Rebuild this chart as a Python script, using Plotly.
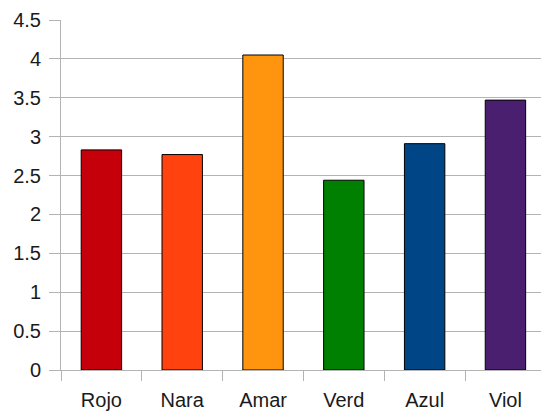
import plotly.graph_objects as go

categories = ["Rojo", "Nara", "Amar", "Verd", "Azul", "Viol"]
values = [2.83, 2.77, 4.05, 2.44, 2.91, 3.47]
colors = ["#C5000B", "#FF420E", "#FF950E", "#008000", "#004586", "#4B1F6F"]
ytickvals = [0, 0.5, 1, 1.5, 2, 2.5, 3, 3.5, 4, 4.5]
yticktext = ["0", "0.5", "1", "1.5", "2", "2.5", "3", "3.5", "4", "4.5"]

fig = go.Figure(go.Bar(
    x=categories, y=values,
    marker=dict(color=colors, line=dict(color="#000000", width=1)),
    width=0.5,
))

grid = "#b3b3b3"
fig.update_layout(
    width=541, height=416,
    margin=dict(l=61, r=0, t=20, b=46, autoexpand=False),
    paper_bgcolor="white", plot_bgcolor="white",
    font=dict(family="Liberation Sans, Arial, sans-serif", size=20, color="#1a1a1a"),
    showlegend=False,
    xaxis=dict(
        range=[-0.5, 5.44], showgrid=False, showline=True, linecolor=grid, linewidth=1,
        ticks="outside", tickson="boundaries", ticklen=10, tickcolor=grid, tickwidth=1,
        ticklabelstandoff=12, automargin=False,
    ),
    yaxis=dict(
        range=[0, 4.5], tickvals=ytickvals, ticktext=yticktext,
        showgrid=True, gridcolor=grid, gridwidth=1,
        showline=True, linecolor=grid, linewidth=1, zeroline=False,
        ticks="outside", ticklen=11, tickcolor=grid, tickwidth=1,
        ticklabelstandoff=4, automargin=False,
    ),
)

fig.write_html("out.html", config={"displayModeBar": False},
               post_script="document.body.style.margin='0';document.body.style.overflow='hidden';")
